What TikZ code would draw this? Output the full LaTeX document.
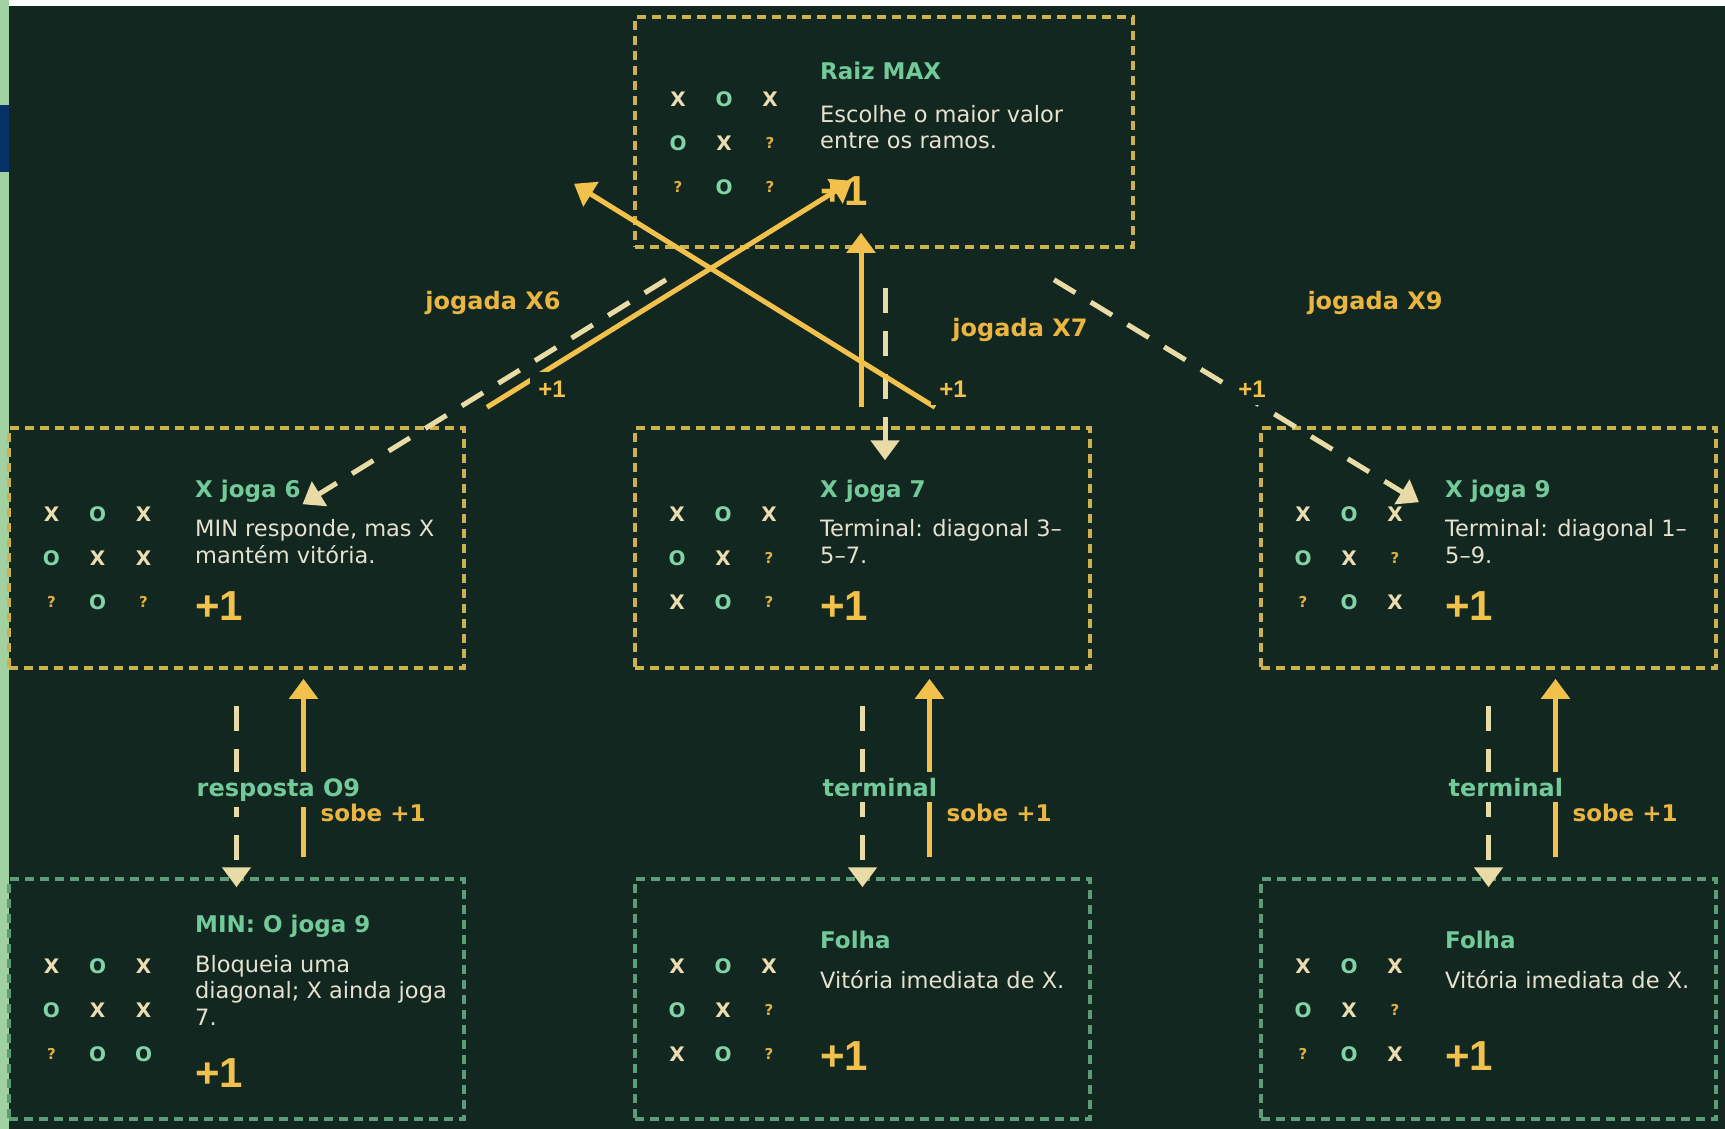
\documentclass[tikz,border=0pt]{standalone}
\usepackage{fontspec}
\setmainfont{DejaVu Sans}
\newfontfamily\scorefont{Liberation Sans}
\usetikzlibrary{arrows.meta, positioning}

\definecolor{mybg}{HTML}{12271F}
\definecolor{mystrip}{HTML}{A2D1A1}
\definecolor{myblue}{HTML}{083068}
\definecolor{myyellow}{HTML}{F2C14B}
\definecolor{mygold}{HTML}{EBB640}
\definecolor{mycream}{HTML}{E8DBA5}
\definecolor{mygreen}{HTML}{72C99A}
\definecolor{mytext}{HTML}{E6E2D2}
\definecolor{myborder}{HTML}{CDB14D}
\definecolor{myleaf}{HTML}{5C9C78}
\definecolor{cellx}{HTML}{EBDCB2}
\definecolor{cello}{HTML}{80D4A8}
\definecolor{cellq}{HTML}{E3B040}

\tikzset{
	boxnode/.style={
			shape=rectangle,
			line width=3.5pt,
			dash pattern=on 9pt off 6pt,
			minimum width=455pt,
			minimum height=240pt,
			inner sep=0pt
		},
	maxnode/.style={
			boxnode,
			draw=myborder
		},
	leafnode/.style={
			boxnode,
			draw=myleaf
		}
}
\tikzset{
	cellnode/.style={inner sep=0pt, font=\fontsize{20}{20}\selectfont\bfseries},
	cellX/.style={cellnode, text=cellx},
	cellO/.style={cellnode, text=cello},
	cellQ/.style={cellnode, text=cellq, font=\fontsize{15}{15}\selectfont\bfseries}
}
\tikzset{
	titletext/.style={anchor=base west, inner sep=0pt, text=mygreen, font=\fontsize{23}{27}\selectfont\bfseries},
	desctext/.style={anchor=base west, inner sep=0pt, align=left, text=mytext, font=\fontsize{22.5}{26.5}\selectfont},
	scoretext/.style={anchor=base west, inner sep=0pt, text=myyellow, font=\scorefont\bfseries\fontsize{42}{42}\selectfont},
	movetext/.style={anchor=base, inner sep=0pt, text=mygold, font=\fontsize{24}{28}\selectfont\bfseries},
	edgescore/.style={anchor=base, inner sep=8pt, fill=mybg, text=myyellow, font=\scorefont\bfseries\fontsize{24}{24}\selectfont},
	edgetext/.style={anchor=base west, inner sep=6pt, fill=mybg, text=mygreen, font=\fontsize{24}{28}\selectfont\bfseries},
	sobetext/.style={anchor=base west, inner sep=0pt, text=mygold, font=\fontsize{23}{27}\selectfont\bfseries},
	descend/.style={draw=mycream, line width=5pt, dash pattern=on 25pt off 18pt, -{Triangle[width=28pt,length=20pt]}},
	ascend/.style={draw=myyellow, line width=5pt, -{Triangle[width=28pt,length=20pt]}}
}

\newcommand{\tttX}{X}
\newcommand{\tttO}{O}
\newcommand{\tttQ}{?}
% 3x3 board: name, x and y of the middle cell, cells
\newcommand{\tttboard}[4]{%
  \foreach \c [count=\i from 0] in {#4} {
    \pgfmathtruncatemacro{\row}{\i/3}
    \pgfmathtruncatemacro{\col}{\i-3*\row}
    \edef\cellstyle{cell\c}
    \node[\cellstyle] (#1-\i) at ({#2+(\col-1)*46},{#3+(\row-1)*44}) {\csname ttt\c\endcsname};
  }%
}

\begin{document}
\begin{tikzpicture}[x=1pt, y=-1pt]

  \useasboundingbox (0,0) rectangle (1725,1129);
  \fill[white] (0,0) rectangle (1725,1129);
  \fill[mystrip] (0,0) rectangle (9,1129);
  \fill[myblue] (0,105) rectangle (9,172);
  \fill[mybg] (9,6) rectangle (1725,1129);

  \node[maxnode, minimum width=498pt, minimum height=230pt] (root) at (884,132) {};
  \node[maxnode] (n6) at (236.5,548) {};
  \node[maxnode] (n7) at (862.5,548) {};
  \node[maxnode] (n9) at (1488.5,548) {};
  \node[leafnode] (o9) at (236.5,999) {};
  \node[leafnode] (f7) at (862.5,999) {};
  \node[leafnode] (f9) at (1488.5,999) {};

  \tttboard{root}{724}{143}{X,O,X,O,X,Q,Q,O,Q}
  \tttboard{n6}{97.5}{558}{X,O,X,O,X,X,Q,O,Q}
  \tttboard{n7}{723}{558}{X,O,X,O,X,Q,X,O,Q}
  \tttboard{n9}{1349}{558}{X,O,X,O,X,Q,Q,O,X}
  \tttboard{o9}{97.5}{1010}{X,O,X,O,X,X,Q,O,O}
  \tttboard{f7}{723}{1010}{X,O,X,O,X,Q,X,O,Q}
  \tttboard{f9}{1349}{1010}{X,O,X,O,X,Q,Q,O,X}

  % texts (a description's base is its last line)
  \node[titletext] (root-t) at (820,80) {Raiz MAX};
  \node[desctext] (root-d) at (820,149) {Escolhe o maior valor\\entre os ramos.};
  \node[scoretext] (root-s) at (820,205) {+1};

  \node[titletext] (n6-t) at (195,497) {X joga 6};
  \node[desctext] (n6-d) at (195,563) {MIN responde, mas X\\mantém vitória.};
  \node[scoretext] (n6-s) at (195,620) {+1};

  \node[titletext] (n7-t) at (820,497) {X joga 7};
  \node[desctext] (n7-d) at (820,563) {Terminal: diagonal 3–\\5–7.};
  \node[scoretext] (n7-s) at (820,620) {+1};

  \node[titletext] (n9-t) at (1445,497) {X joga 9};
  \node[desctext] (n9-d) at (1445,563) {Terminal: diagonal 1–\\5–9.};
  \node[scoretext] (n9-s) at (1445,620) {+1};

  \node[titletext] (o9-t) at (195,932) {MIN: O joga 9};
  \node[desctext] (o9-d) at (195,1025) {Bloqueia uma\\diagonal; X ainda joga\\7.};
  \node[scoretext] (o9-s) at (195,1087) {+1};

  \node[titletext] (f7-t) at (820,948) {Folha};
  \node[desctext] (f7-d) at (820,988) {Vitória imediata de X.};
  \node[scoretext] (f7-s) at (820,1070) {+1};

  \node[titletext] (f9-t) at (1445,948) {Folha};
  \node[desctext] (f9-d) at (1445,988) {Vitória imediata de X.};
  \node[scoretext] (f9-s) at (1445,1070) {+1};

  % moves down, values up
  \draw[descend] ([shift={(-218,31)}]root.south) -- ([shift={(66,78)}]n6.north);
  \draw[ascend] ([shift={(250.5,-19)}]n6.north) -- ([shift={(-32,-68)}]root.south);
  \draw[descend] ([shift={(1,39)}]root.south) -- ([shift={(22.5,34)}]n7.north);
  \draw[ascend] ([shift={(-1.5,-19)}]n7.north) -- ([shift={(-23,-16)}]root.south);
  \draw[ascend] ([shift={(72.5,-19)}]n7.north) -- ([shift={(-310,-65)}]root.south);
  \draw[descend] ([shift={(170,31)}]root.south) -- ([shift={(-69.5,76)}]n9.north);

  \draw[descend] ([yshift=-36pt]n6.south) -- ([yshift=-10pt]o9.north);
  \draw[ascend] ([shift={(67,-20)}]o9.north) -- ([shift={(67,9)}]n6.south);
  \draw[descend] ([yshift=-36pt]n7.south) -- ([yshift=-10pt]f7.north);
  \draw[ascend] ([shift={(67,-20)}]f7.north) -- ([shift={(67,9)}]n7.south);
  \draw[descend] ([yshift=-36pt]n9.south) -- ([yshift=-10pt]f9.north);
  \draw[ascend] ([shift={(67,-20)}]f9.north) -- ([shift={(67,9)}]n9.south);

  \node[movetext] (j6) at (493,309) {jogada X6};
  \node[movetext] (j7) at (1020,336) {jogada X7};
  \node[movetext] (j9) at (1375,309) {jogada X9};

  \node[edgescore] (p6) at (552,397) {+1};
  \node[edgescore] (p7) at (953,397) {+1};
  \node[edgescore] (p9) at (1252,397) {+1};

  \node[edgetext] (e6) at (190.5,796) {resposta O9};
  \node[sobetext] (s6) at (320.5,821) {sobe +1};
  \node[edgetext] (e7) at (816.5,796) {terminal};
  \node[sobetext] (s7) at (946.5,821) {sobe +1};
  \node[edgetext] (e9) at (1442.5,796) {terminal};
  \node[sobetext] (s9) at (1572.5,821) {sobe +1};

\end{tikzpicture}
\end{document}
